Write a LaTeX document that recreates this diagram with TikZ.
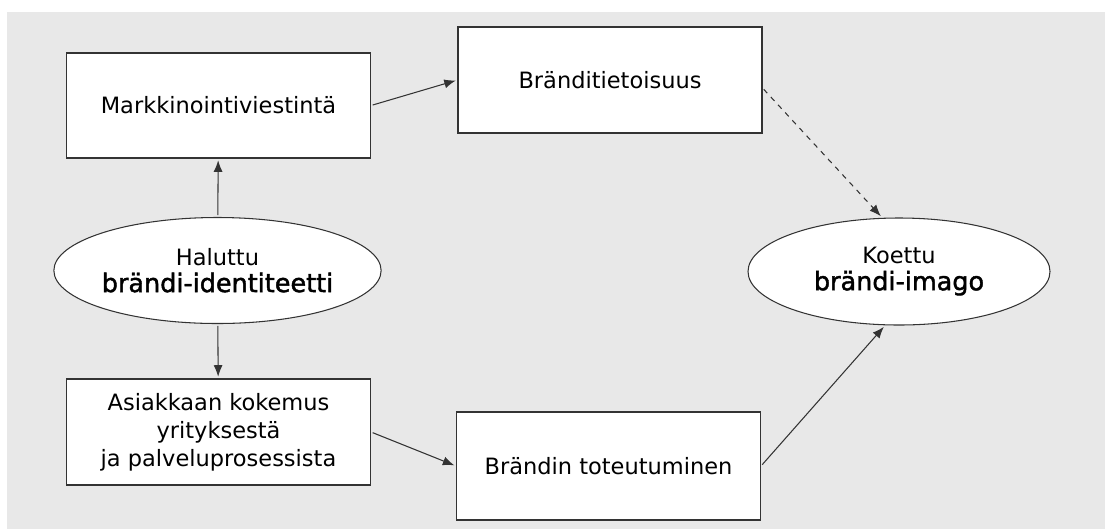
\documentclass[tikz,border=0pt]{standalone}
\usepackage{fontspec}
\setmainfont{DejaVu Sans}
\newfontfamily\medfont[FakeBold=1.6]{DejaVu Sans}
\usetikzlibrary{arrows.meta, shapes.geometric, positioning}

\begin{document}
\begin{tikzpicture}[
    boxnode/.style={draw=black!80, line width=0.6pt, fill=white, minimum width=6.08cm, minimum height=2.12cm, align=center, font=\fontsize{12.8}{16}\selectfont},
    ovalnode/.style={ellipse, draw=black!80, line width=0.6pt, fill=white, minimum width=6.08cm, minimum height=2.12cm, inner sep=0pt, align=center, font=\fontsize{12.8}{15}\selectfont},
    link/.style={draw=black!80, line width=0.6pt, -{Latex[length=2.3mm,width=1.8mm]}, shorten >=1pt, shorten <=1pt},
    ]
    \useasboundingbox (0,0) rectangle (22.1,-10.58);
    \fill[white] (0,0) rectangle (22.1,-10.58);
    \fill[black!9] (0.14,-0.24) rectangle (22.1,-10.58);

    \node[boxnode, minimum height=2.1cm] (markk) at (4.37,-2.11) {Markkinointiviestintä};
    \node[boxnode] (tieto) at (12.2,-1.6) {Bränditietoisuus};
    \node[ovalnode] (halu) at (4.35,-5.41) {Haluttu\\{\fontsize{14.5}{16}\medfont brändi-identiteetti}};
    \node[boxnode] (asiak) at (4.37,-8.64) {Asiakkaan kokemus\\yrityksestä\\ja palveluprosessista};
    \node[boxnode, minimum height=2.16cm] (toteut) at (12.17,-9.32) {Brändin toteutuminen};
    \node[ovalnode, minimum width=6.04cm, minimum height=2.14cm] (koettu) at (17.98,-5.43) {Koettu\\{\fontsize{14.5}{16}\medfont brändi-imago}};

    \draw[link] (markk.east) -- (tieto.west);
    \draw[link] (halu) -- (markk);
    \draw[link] (halu) -- (asiak);
    \draw[link] (asiak.east) -- (toteut.west);
    \draw[link] (toteut.east) -- ([xshift=-0.28cm]koettu.south);
    \draw[link, dashed] ([yshift=-0.16cm]tieto.east) -- ([xshift=-0.34cm]koettu.north);
\end{tikzpicture}
\end{document}
